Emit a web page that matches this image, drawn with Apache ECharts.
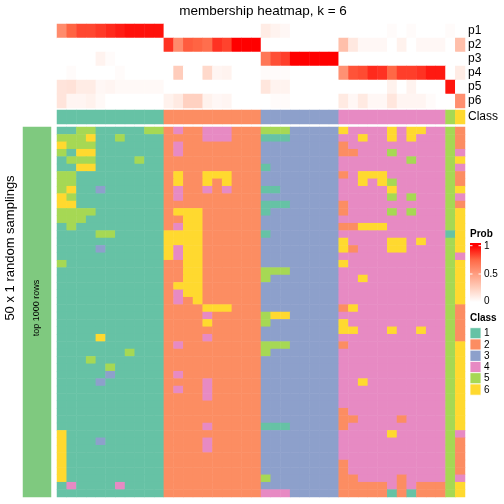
<!DOCTYPE html>
<html><head><meta charset="utf-8">
<script src="https://cdn.jsdelivr.net/npm/echarts@6/dist/echarts.min.js"></script>
<style>html,body{margin:0;padding:0;background:#fff}#c{width:504px;height:504px}</style>
</head><body><div id="c"></div>
<script>
const titleText = 'membership heatmap, k = 6';
const classColors = ['#66C2A5','#FC8D62','#8DA0CB','#E78AC3','#A6D854','#FFD92F'];
const classLabels = ['1','2','3','4','5','6'];
const probRows = ['p1','p2','p3','p4','p5','p6'];
const probTicks = ['1','0.5','0'];
const p1 = [0.59,0.76,0.83,0.83,0.86,0.9,0.93,0.96,0.96,0.96,0.96, 0,0,0,0,0,0,0,0,0,0, 0.1,0.06,0.04,0,0,0,0,0, 0,0,0,0,0,0.02,0,0.02,0,0,0,0.02,0];
const p2 = [0,0,0,0,0,0,0,0,0,0,0, 0.88,0.59,0.78,0.76,0.72,0.88,0.84,1,1,1, 0,0,0,0,0,0,0,0, 0.33,0.12,0.04,0.04,0.04,0,0.07,0,0.04,0.04,0.04,0,0.33];
const p3 = [0,0,0,0,0.06,0.02,0,0,0,0,0, 0,0,0,0,0,0,0,0,0,0, 0.68,0.81,0.85,1,1,1,1,1, 0,0,0,0,0,0,0,0,0,0,0,0,0];
const p4 = [0,0.02,0,0,0,0,0.02,0,0,0,0, 0,0.26,0,0,0.2,0.05,0.06,0,0,0, 0.02,0.02,0.02,0,0,0,0,0, 0.56,0.8,0.82,0.9,0.88,0.75,0.85,0.85,0.88,0.94,0.94,0,0.1];
const p5 = [0.14,0.15,0.1,0.1,0.04,0.05,0.03,0.03,0.03,0.03,0.03, 0,0,0,0,0,0,0,0,0,0, 0.13,0.06,0.06,0,0,0,0,0, 0,0,0,0,0,0.07,0,0.06,0,0,0,0.95,0];
const p6 = [0.14,0.05,0.05,0.07,0.03,0,0,0,0,0,0, 0.07,0.11,0.24,0.24,0.07,0.04,0.05,0,0,0, 0,0.02,0.02,0,0,0,0,0, 0.11,0.04,0.11,0.04,0.04,0.13,0.05,0.05,0.05,0.02,0,0,0.57];
const colClass = [1,1,1,1,1,1,1,1,1,1,1, 2,2,2,2,2,2,2,2,2,2, 3,3,3,3,3,3,3,3, 4,4,4,4,4,4,4,4,4,4,4, 5, 6];
// class assigned in each of 50 random samplings (rows) for each sample (columns)
const samplings = [
"11551111155 2422444222 55533333 6444464664452",
"55561151111 2222444222 11133333 4464464644452",
"65551111111 2422222222 33333333 2444444444452",
"51661111111 2422222222 33333333 2244454444454",
"15551111511 2222222222 33333333 4444444544456",
"11661111111 2222222222 13333333 4444444444454",
"55111111111 2622666222 33333333 2466644444452",
"55111111111 2622626222 33333333 4464654444452",
"56113111111 2422424222 11333333 4444464444456",
"65111111111 2422222222 33333333 4444454544454",
"66111111111 2222222222 11133333 2444444444452",
"55551111111 2666222222 13333333 2444454544456",
"55511111111 2266222222 33333333 4444444444456",
"15111111111 2466222222 33333333 2266644444456",
"11115511111 6666222222 13333333 4444444444416",
"11111111111 6666222222 33333333 6444466464456",
"11113111111 6466222222 33333333 6244466444456",
"11111111111 6466222222 33333333 4444444444454",
"51111111111 2266222222 33333333 6444444444456",
"11111111111 2266222222 55533333 4444444444456",
"11111111111 2266222222 53333333 4464444444456",
"11111111111 2666222222 33333333 4444444444456",
"11111111111 2466222222 33333333 4444444444456",
"11111111111 2426222222 33333333 4444444444456",
"11111111111 2222666222 33333333 2644444444452",
"11111111111 2222422222 56633333 4444444444452",
"11111111111 2222622222 53333333 6444444444452",
"11111111111 2222222222 33333333 6644464464452",
"11116111111 2222422222 33333333 4444444444452",
"11111111111 2422222222 55533333 2444444444456",
"11111115111 2222222222 53333333 4444444444456",
"11151111111 2222222222 33333333 4444444444456",
"11111511111 2222222222 33333333 4444444444456",
"11111311111 2422222222 33333333 4444444444456",
"11113111111 2222422222 33333333 4464444444456",
"11111111111 2422422222 33333333 4444444444456",
"11111111111 2222422222 33333333 4444444444456",
"11111111111 2222222222 33333333 4444444444456",
"11111111111 2222222222 33333333 2444444444456",
"11111111111 2222222222 33333333 2244442444456",
"11111111111 2222422222 11133333 2444444444456",
"61111111111 2222222222 33333333 4444464444454",
"61113111111 2222422222 33333333 4444444444452",
"61111111111 2222422222 33333333 4444444444452",
"61111111111 2222222222 33333333 4444444444452",
"61111111111 2222222222 33333333 2444444444452",
"61111111111 2222222222 33333333 2444444444452",
"61111111111 2222222222 53333333 2244442444454",
"14111141111 2222222222 33333333 2222242422256",
"11111111111 2222222222 44433333 2222212122256"
];
const rowGroup = ['top 1000 rows'];
const rowTitle = '50 x 1 random samplings';

const FONT = 'Liberation Sans, Arial, Helvetica, sans-serif';
const cols = colClass.map((_, i) => String(i));
const probs = [p1, p2, p3, p4, p5, p6];
const probData = [];
probs.forEach((row, r) => row.forEach((v, c) => probData.push([c, r, v])));
const classRowData = colClass.map((v, c) => [c, 0, v]);
const sampData = [];
samplings.forEach((s, r) => {
  s.replace(/\s/g, '').split('').forEach((ch, c) => sampData.push([c, r, +ch]));
});
const sampRows = samplings.map((_, i) => String(i));

const hiddenAxis = (gi, data, extra) => Object.assign({
  type: 'category', gridIndex: gi, data: data,
  axisLine: {show: false}, axisTick: {show: false}, axisLabel: {show: false}, splitLine: {show: false}
}, extra || {});

const labelAxis = (gi, data) => ({
  type: 'category', gridIndex: gi, data: data, inverse: true, position: 'right',
  axisLine: {show: false}, axisTick: {show: false}, splitLine: {show: false},
  axisLabel: {show: true, interval: 0, margin: 3, fontSize: 12, color: '#000', fontFamily: FONT}
});

const hm = (xi, yi, data, extra) => Object.assign({
  type: 'heatmap', xAxisIndex: xi, yAxisIndex: yi, data: data,
  emphasis: {disabled: true}, itemStyle: {borderWidth: 0}, silent: true, progressive: 0
}, extra || {});

const graphics = [];
graphics.push({type: 'text', x: 263, y: 11, style: {text: titleText, font: '13.5px ' + FONT, fill: '#000', textAlign: 'center', textVerticalAlign: 'middle'}});
graphics.push({type: 'text', x: 10, y: 248, rotation: Math.PI / 2, style: {text: rowTitle, font: '13px ' + FONT, fill: '#000', textAlign: 'center', textVerticalAlign: 'middle'}});
graphics.push({type: 'text', x: 37, y: 308, rotation: Math.PI / 2, z: 10, style: {text: rowGroup[0], font: '9px ' + FONT, fill: '#000', textAlign: 'center', textVerticalAlign: 'middle'}});
// Prob legend
graphics.push({type: 'text', x: 470, y: 234, style: {text: 'Prob', font: 'bold 10px ' + FONT, fill: '#000', textAlign: 'left', textVerticalAlign: 'middle'}});
graphics.push({type: 'rect', shape: {x: 470, y: 243, width: 11, height: 59},
  style: {fill: new echarts.graphic.LinearGradient(0, 0, 0, 1, [
    {offset: 0, color: '#FF0000'}, {offset: 0.046, color: '#FF0000'},
    {offset: 0.285, color: '#FF6846'}, {offset: 0.525, color: '#FF9E81'},
    {offset: 0.765, color: '#FFCFBE'}, {offset: 1, color: '#FFFFFF'}])}});
[245.7, 274].forEach(y => {
  graphics.push({type: 'line', shape: {x1: 470, y1: y, x2: 472.5, y2: y}, style: {stroke: '#fff', lineWidth: 1}});
  graphics.push({type: 'line', shape: {x1: 478.5, y1: y, x2: 481, y2: y}, style: {stroke: '#fff', lineWidth: 1}});
});
[246, 274, 301].forEach((y, i) => {
  graphics.push({type: 'text', x: 484, y: y, style: {text: probTicks[i], font: '10px ' + FONT, fill: '#000', textAlign: 'left', textVerticalAlign: 'middle'}});
});
// Class legend
graphics.push({type: 'text', x: 470, y: 318, style: {text: 'Class', font: 'bold 10px ' + FONT, fill: '#000', textAlign: 'left', textVerticalAlign: 'middle'}});
classColors.forEach((c, i) => {
  const y = 327.7 + 11.25 * i;
  graphics.push({type: 'rect', shape: {x: 470, y: y, width: 11, height: 11.25}, style: {fill: c, stroke: '#fff', lineWidth: 0.8}});
  graphics.push({type: 'text', x: 484, y: y + 5.8, style: {text: classLabels[i], font: '10px ' + FONT, fill: '#000', textAlign: 'left', textVerticalAlign: 'middle'}});
});

const chart = echarts.init(document.getElementById('c'), null, {renderer: 'canvas'});
chart.setOption({
  animation: false,
  backgroundColor: '#fff',
  grid: [
    {left: 57, top: 24, width: 408, height: 84},
    {left: 57, top: 110, width: 408, height: 14},
    {left: 57, top: 127, width: 408, height: 370},
    {left: 23, top: 127, width: 28, height: 370}
  ],
  xAxis: [hiddenAxis(0, cols), hiddenAxis(1, cols), hiddenAxis(2, cols), hiddenAxis(3, rowGroup)],
  yAxis: [labelAxis(0, probRows), labelAxis(1, ['Class']), hiddenAxis(2, sampRows, {inverse: true}), hiddenAxis(3, [''])],
  visualMap: [
    {type: 'continuous', min: 0, max: 1, seriesIndex: 0, show: false,
     inRange: {color: ['#FFFFFF', '#FFCFBE', '#FF9E81', '#FF6846', '#FF0000']}},
    {type: 'piecewise', seriesIndex: [1, 2], show: false,
     pieces: classColors.map((c, i) => ({value: i + 1, color: c}))}
  ],
  series: [
    hm(0, 0, probData),
    hm(1, 1, classRowData),
    hm(2, 2, sampData),
    hm(3, 3, [{value: [0, 0, 1], itemStyle: {color: '#7FC97F'}}])
  ],
  graphic: graphics
});
</script></body></html>
